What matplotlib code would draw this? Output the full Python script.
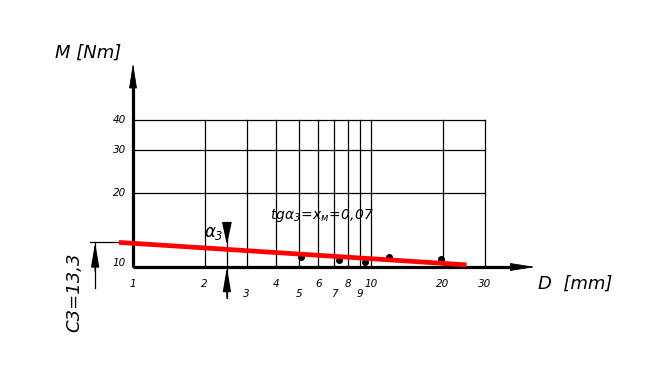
import matplotlib
matplotlib.use("Agg")
import matplotlib.pyplot as plt

# ── Data ─────────────────────────────────────────────────────────────────────
x_ticks  = [1, 2, 3, 4, 5, 6, 7, 8, 9, 10, 20, 30]
x_labels = ["1", "2", "3", "4", "5", "6", "7", "8", "9", "10", "20", "30"]
x_row    = [0, 0, 1, 0, 1, 0, 1, 0, 1, 0, 0, 0]      # staggered label rows
y_ticks  = [10, 20, 30, 40]
y_labels = ["10", "20", "30", "40"]
x_grid   = [2, 3, 4, 5, 6, 7, 8, 9, 10, 20, 30]
y_grid   = [20, 30, 40]

meas_D = [5.07, 7.36, 9.44, 11.9, 19.6]
meas_M = [10.95, 10.68, 10.45, 11.0, 10.8]
fit_D  = [0.873, 25.2]
fit_M  = [12.6, 10.2]

alpha_D = 2.48
c3_D    = 0.693

# ── Style ────────────────────────────────────────────────────────────────────
plt.rcParams["font.family"] = "DejaVu Sans"
plt.rcParams["font.style"] = "oblique"
plt.rcParams["mathtext.fontset"] = "custom"
plt.rcParams["mathtext.rm"] = "DejaVu Sans:italic"
plt.rcParams["mathtext.it"] = "DejaVu Sans:italic"
INK = "black"; RED = "#FF0000"

fig = plt.figure(figsize=(6.5, 3.92), dpi=100, facecolor="white")
ax = fig.add_axes([0, 0, 1, 1])
ax.set_xscale("log"); ax.set_yscale("log")
ax.set_xlim(0.2761, 148.7)
ax.set_ylim(3.088, 123.0)
ax.axis("off")

def arrow(p0, p1, lw, hl=1.6, hw=0.25):
    ax.annotate("", xy=p1, xytext=p0,
                arrowprops=dict(arrowstyle=f"-|>,head_length={hl},head_width={hw}",
                                color=INK, lw=lw, mutation_scale=10,
                                shrinkA=0, shrinkB=0))

def figtext(px, py, s, **kw):
    fig.text(px / 650, 1 - py / 392, s, **kw)

# grid
for v in x_grid:
    ax.plot([v, v], [y_ticks[0], y_grid[-1]], color=INK, lw=0.9)
for v in y_grid:
    ax.plot([x_ticks[0], x_grid[-1]], [v, v], color=INK, lw=0.9)

# axes: thick shafts + slim arrow heads
ax.plot([1, 1], [10, 55], color=INK, lw=2.3, solid_capstyle="butt")
ax.plot([1, 40], [10, 10], color=INK, lw=2.3, solid_capstyle="butt")
arrow((1, 10), (1, 68), lw=0.6, hl=1.6, hw=0.25)
arrow((1, 10), (49, 10), lw=0.6, hl=1.6, hw=0.25)

# measured points and fitted line
ax.plot(meas_D, meas_M, "o", color=INK, ms=4, zorder=3)
ax.plot(fit_D, fit_M, color=RED, lw=3.4, solid_capstyle="butt", zorder=4)

# alpha_3 marker
ax.plot([alpha_D, alpha_D], [15.3, 7.47], color=INK, lw=0.9)
arrow((alpha_D, 15.0), (alpha_D, 12.3), lw=0.9, hl=1.4, hw=0.3)
arrow((alpha_D, 7.47), (alpha_D, 10.0), lw=0.9, hl=1.5, hw=0.25)

# C3 dimension
ax.plot([0.66, 1.0], [fit_M[0], fit_M[0]], color=INK, lw=0.9)
ax.plot([c3_D, c3_D], [8.2, fit_M[0]], color=INK, lw=0.9)
arrow((c3_D, 9.6), (c3_D, fit_M[0]), lw=0.9, hl=1.5, hw=0.25)

# tick labels
for v, s, r in zip(x_ticks, x_labels, x_row):
    ax.annotate(s, xy=(v, 10), xytext=(0, -12.2 - 7.2 * r), textcoords="offset points",
                ha="center", va="center", fontsize=7.5)
for v, s in zip(y_ticks, y_labels):
    dy = 3 if v == 10 else 0
    ax.annotate(s, xy=(1, v), xytext=(-5, dy), textcoords="offset points",
                ha="right", va="center", fontsize=7.5)

# labels
figtext(55, 53, "M [Nm]", fontsize=13, ha="left", va="center")
figtext(538, 284, "D  [mm]", fontsize=13, ha="left", va="center")
figtext(74, 292, "C3=13,3", fontsize=13, ha="center", va="center", rotation=90)
figtext(270, 216, r"$tg\alpha_3\!=\!x_{м}\!=\!0{,}07$", fontsize=10, ha="left", va="center")
figtext(204, 233, r"$\alpha_3$", fontsize=12, ha="left", va="center")

fig.savefig("out.png", dpi=100, facecolor="white")
